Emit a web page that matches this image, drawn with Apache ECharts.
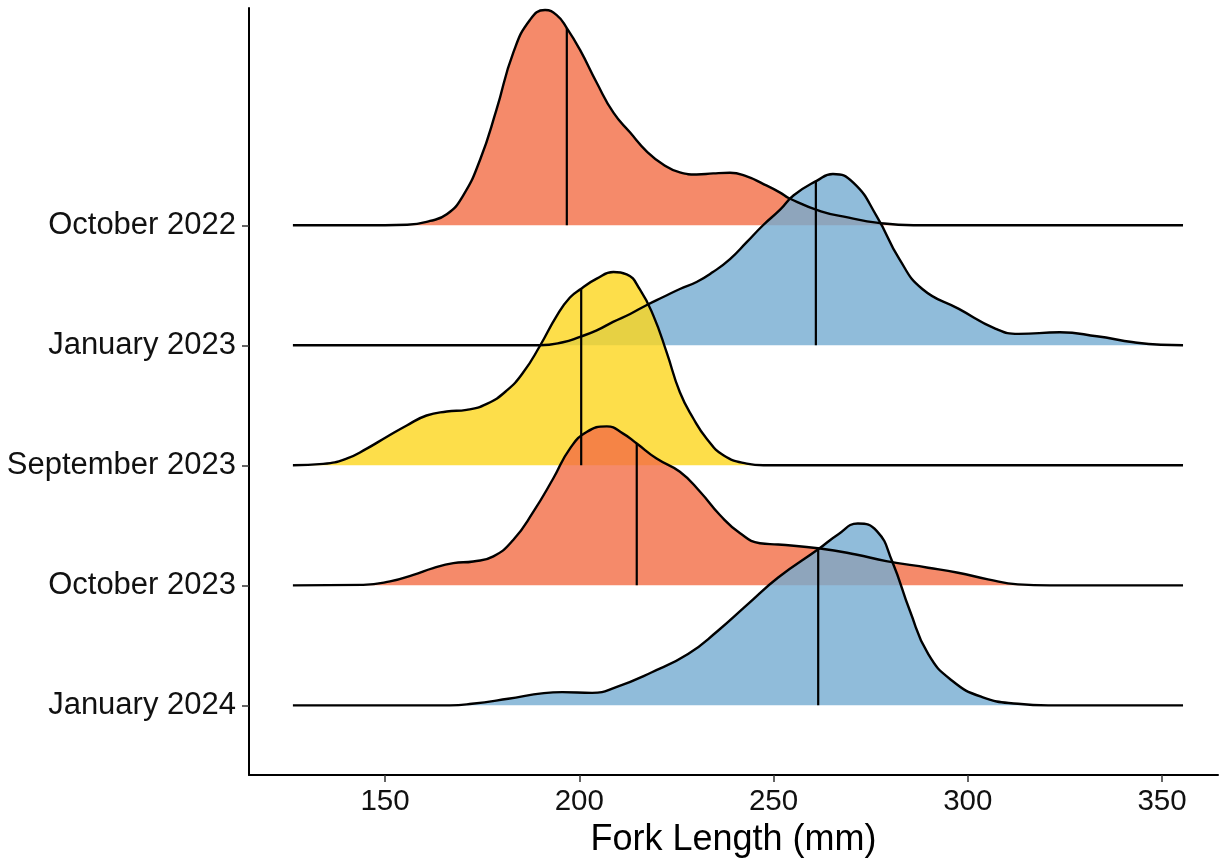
<!DOCTYPE html>
<html>
<head>
<meta charset="utf-8">
<title>Fork length ridgeline</title>
<script src="https://cdn.jsdelivr.net/npm/echarts@6/dist/echarts.min.js"></script>
<style>
  html, body { margin: 0; padding: 0; background: #fff; }
  #chart { width: 1220px; height: 863px; }
</style>
</head>
<body>
<div id="chart"></div>
<script>
// ===== Data =====
// rows from bottom (y = 1) to top (y = 5)
const sampleNames = ['January 2024', 'October 2023', 'September 2023', 'January 2023', 'October 2022'];
const lengthTicks = [150, 200, 250, 300, 350];

// ridge heights [fork length (mm), scaled density]
const oct2022 = [[126.3,0],[150,0],[155.7,0.004],[161.6,0.036],[165.9,0.091],[170,0.241],[174.5,0.548],[178.7,0.963],[183,1.436],[187.3,1.71],[191.2,1.793],[194.2,1.751],[196.8,1.643],[200.2,1.461],[204.5,1.187],[208.8,0.938],[213.1,0.772],[217.4,0.614],[221.6,0.506],[225.9,0.44],[230.2,0.423],[234.5,0.432],[238.8,0.437],[243.1,0.407],[247.3,0.345],[251.7,0.272],[254,0.225],[262.2,0.116],[269.4,0.064],[276.5,0.022],[286,0],[355.4,0]];
const jan2023 = [[126.3,0],[189.9,0],[195.8,0.025],[200.2,0.071],[204.5,0.124],[208.7,0.195],[213.1,0.261],[217.4,0.336],[221.6,0.402],[225.9,0.469],[230.2,0.527],[234.4,0.61],[238.8,0.718],[243.1,0.859],[247.3,1.0],[251.7,1.13],[255.2,1.25],[261.1,1.37],[265.3,1.427],[270.6,1.353],[276.5,1.079],[282.4,0.718],[288.3,0.469],[297.7,0.303],[307.2,0.137],[313.1,0.095],[323.7,0.108],[333.2,0.075],[342.7,0.025],[349.7,0.004],[355.4,0]];
const sep2023 = [[126.3,0],[134.1,0.012],[140.1,0.056],[145.3,0.139],[150.4,0.236],[155.6,0.332],[160.7,0.415],[165.9,0.448],[171,0.462],[176.2,0.512],[181.3,0.622],[185.6,0.775],[189.9,0.996],[194.2,1.245],[197.6,1.398],[200.6,1.473],[204.5,1.555],[208.8,1.61],[212.2,1.591],[215.6,1.466],[219.1,1.245],[222.5,0.941],[225.9,0.609],[229.4,0.388],[232.8,0.222],[237.1,0.083],[243.1,0.014],[247.4,0],[355.4,0]];
const oct2023 = [[126.3,0],[144.4,0.004],[151.3,0.033],[157.3,0.088],[162.4,0.144],[167.6,0.185],[172.7,0.199],[177.9,0.241],[183,0.378],[188.2,0.614],[193.3,0.89],[197.6,1.139],[201.9,1.278],[207.1,1.324],[211.3,1.264],[214.8,1.181],[219.9,1.056],[225.9,0.946],[231.1,0.78],[236.2,0.586],[241.4,0.434],[246.5,0.351],[251.2,0.34],[262,0.307],[271.2,0.257],[279,0.202],[289.8,0.147],[297.5,0.105],[305.2,0.05],[312.9,0.008],[321.1,0],[355.4,0]];
const jan2024 = [[126.3,0],[166.7,0],[172.4,0.013],[181.7,0.055],[190.9,0.102],[195.6,0.11],[203.3,0.104],[209.5,0.152],[218.7,0.276],[228,0.428],[235.7,0.622],[243.4,0.843],[251.2,1.065],[261.5,1.3],[266.6,1.424],[271.7,1.515],[276.6,1.452],[280.5,1.203],[285.1,0.788],[289.8,0.428],[295.9,0.207],[303.7,0.069],[312.9,0.013],[320.7,0],[355.4,0]];

// same order as sampleNames
const ridges = [jan2024, oct2023, sep2023, jan2023, oct2022];
const medianLengths = [261.5, 214.8, 200.5, 260.9, 196.8];
const medianHeights = [1.30, 1.181, 1.466, 1.37, 1.643];

// ===== Styles =====
const fills = ['rgba(116,171,209,0.8)', 'rgba(243,109,69,0.8)', 'rgba(253,214,29,0.8)', 'rgba(116,171,209,0.8)', 'rgba(243,109,69,0.8)'];
const FONT = '"Liberation Sans", Arial, sans-serif';

// ===== Series (top ridge first so lower ridges overlap it) =====
const series = [];
for (let i = ridges.length - 1; i >= 0; i--) {
  const base = i + 1;
  series.push({
    name: sampleNames[i],
    type: 'line',
    data: ridges[i].map(p => [p[0], base + p[1]]),
    smooth: 0.5,
    symbol: 'none',
    lineStyle: { color: '#000', width: 2.4 },
    areaStyle: { color: fills[i], opacity: 1, origin: base },
    silent: true
  });
  series.push({
    name: sampleNames[i] + ' median',
    type: 'line',
    data: [[medianLengths[i], base], [medianLengths[i], base + medianHeights[i]]],
    symbol: 'none',
    lineStyle: { color: '#000', width: 2.2 },
    silent: true
  });
}

const chart = echarts.init(document.getElementById('chart'), null, { renderer: 'canvas' });
chart.setOption({
  animation: false,
  backgroundColor: '#fff',
  grid: { left: 249, right: 2, top: 8, bottom: 81 },
  xAxis: {
    type: 'value',
    min: 115,
    max: 364.4,
    name: 'Fork Length (mm)',
    nameLocation: 'middle',
    nameGap: 44,
    nameTextStyle: { fontFamily: FONT, fontSize: 36, color: '#000' },
    axisLine: { show: true, lineStyle: { color: '#000', width: 2 } },
    axisTick: { show: true, length: 7, customValues: lengthTicks, lineStyle: { color: '#333', width: 1.5 } },
    axisLabel: { customValues: lengthTicks, margin: 12, fontFamily: FONT, fontSize: 29.5, color: '#111' },
    splitLine: { show: false }
  },
  yAxis: {
    type: 'value',
    min: 0.419,
    max: 6.81,
    axisLine: { show: true, lineStyle: { color: '#000', width: 2 } },
    axisTick: { show: true, length: 7, customValues: [1, 2, 3, 4, 5], lineStyle: { color: '#333', width: 1.5 } },
    axisLabel: {
      customValues: [1, 2, 3, 4, 5],
      margin: 13,
      fontFamily: FONT,
      fontSize: 31,
      color: '#111',
      formatter: v => sampleNames[Math.round(v) - 1] || ''
    },
    splitLine: { show: false }
  },
  series
});
</script>
</body>
</html>
